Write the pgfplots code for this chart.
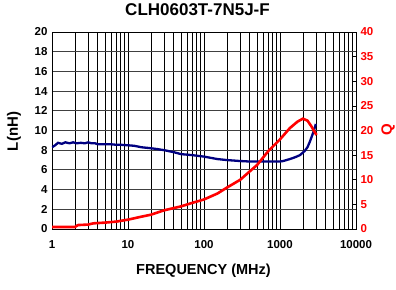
\documentclass[border=0pt]{standalone}
\usepackage{fontspec}
\setmainfont{Liberation Sans}
\usepackage{pgfplots}
\pgfplotsset{compat=1.18}
\definecolor{navyL}{HTML}{000080}
\definecolor{redQ}{HTML}{FF0000}
\begin{document}
\begin{tikzpicture}
\path[use as bounding box] (-52pt,-60pt) rectangle (344pt,229pt);
\begin{axis}[
  at={(0pt,0pt)}, anchor=south west,
  scale only axis, width=304pt, height=197pt,
  xmode=log, xmin=1, xmax=10000,
  ymin=0, ymax=20, ytick={0,2,...,20},
  xtick={1,10,100,1000,10000},
  xticklabels={1,10,100,1000,10000},
  xmajorgrids, xminorgrids, ymajorgrids,
  major grid style={black, line width=0.6pt},
  minor grid style={black, line width=0.6pt},
  ymajorgrids=true,
  y grid style={black!75, line width=0.9pt},
  tick style={draw=none},
  axis line style={black, line width=0.9pt},
  /pgf/number format/assume math mode=true,
  ticklabel style={font=\bfseries\fontsize{11.5}{12}\selectfont},
  yticklabel style={xshift=-1pt},
  xticklabel style={yshift=-8pt},
]
\addplot[navyL, line width=2.3pt] coordinates {
(1,8.3) (1.1,8.5) (1.2,8.75) (1.35,8.65) (1.5,8.8) (1.7,8.7) (1.9,8.8) (2.1,8.7) (2.4,8.75) (2.7,8.7) (3,8.8) (3.3,8.7) (3.7,8.7) (4,8.6) (5,8.6) (6,8.6) (7,8.55) (8,8.55) (10,8.5) (12,8.45) (15,8.3) (20,8.2) (25,8.1) (30,8.0) (40,7.8) (50,7.6) (70,7.5) (100,7.35) (150,7.1) (200,7.0) (300,6.9) (400,6.85) (500,6.85) (700,6.85) (1000,6.85) (1100,6.9) (1350,7.1) (1600,7.3) (1830,7.5) (2100,7.9) (2300,8.3) (2470,8.86) (2650,9.5) (2800,10.0) (2960,10.66)
};
\end{axis}
\begin{axis}[
  at={(0pt,0pt)}, anchor=south west,
  scale only axis, width=304pt, height=197pt,
  xmode=log, xmin=1, xmax=10000,
  ymin=0, ymax=40, ytick={0,5,...,40},
  axis x line=none,
  axis y line*=right,
  y axis line style={black, line width=0.9pt, -},
  ytick style={black, line width=0.6pt},
  major tick length=4pt,
  ytick align=inside,
  /pgf/number format/assume math mode=true,
  yticklabel style={font=\bfseries\fontsize{11.5}{12}\selectfont, text=redQ, xshift=1pt},
]
\addplot[redQ, line width=2.6pt] coordinates {
(1,0.4) (2,0.4) (2.2,0.8) (3,0.9) (3.5,1.15) (5,1.3) (7,1.5) (10,1.9) (15,2.5) (20,2.9) (30,3.8) (50,4.6) (70,5.3) (100,6.0) (150,7.2) (200,8.4) (300,10.0) (400,11.7) (500,13.0) (700,15.8) (1000,18.2) (1350,20.5) (1700,21.8) (2000,22.4) (2300,22.0) (2600,20.8) (2900,19.5) (3030,19.1)
};
\end{axis}
\node[font=\bfseries\fontsize{17}{18}\selectfont] at (145.5pt,219pt) {CLH0603T-7N5J-F};
\node[font=\bfseries\fontsize{14.5}{16}\selectfont] at (151.5pt,-42pt) {FREQUENCY (MHz)};
\node[font=\bfseries\fontsize{15}{16}\selectfont, rotate=90] at (-38pt,97.5pt) {L(nH)};
\node[font=\bfseries\fontsize{15}{16}\selectfont, rotate=90, text=redQ] at (336pt,99pt) {Q};
\end{tikzpicture}
\end{document}
